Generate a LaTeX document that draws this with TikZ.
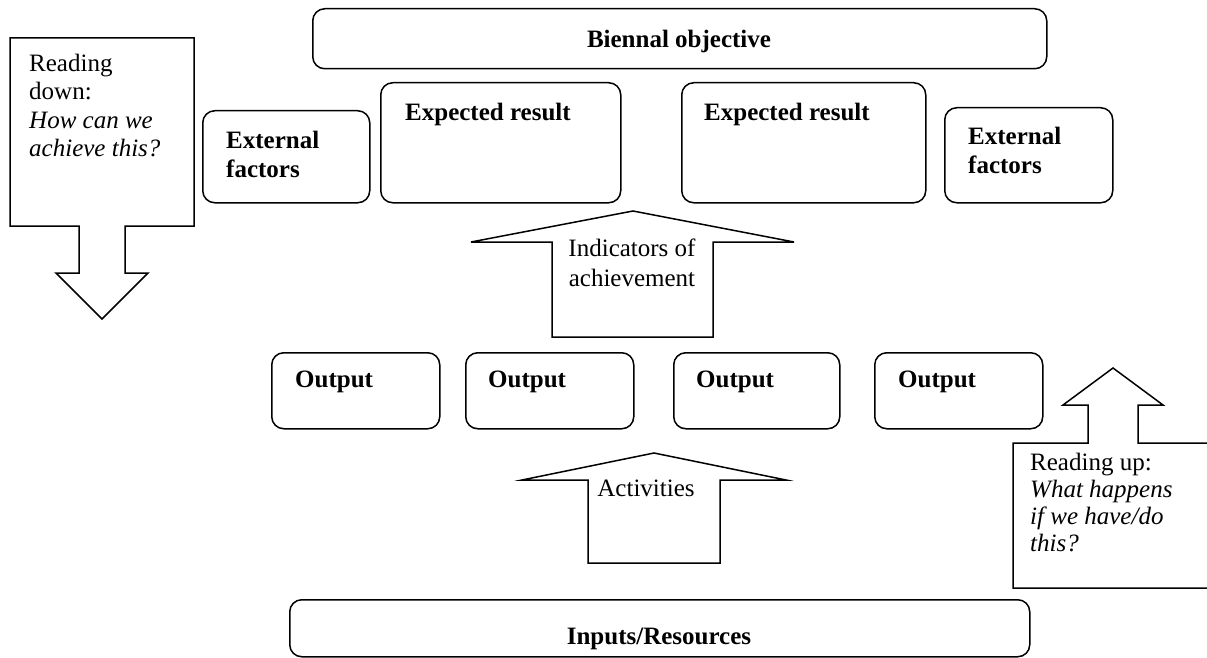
\documentclass[tikz,border=0pt]{standalone}
\usepackage{fontspec}
\setmainfont{Liberation Serif}
\begin{document}
\begin{tikzpicture}[x=1pt,y=-1pt,
  box/.style={draw, rounded corners=12pt, line width=1.5pt, anchor=north west, inner sep=0pt},
  txt/.style={inner sep=0pt, font=\fontsize{25}{29}\selectfont, align=left},
  btxt/.style={inner sep=0pt, font=\fontsize{25}{29}\selectfont\bfseries, align=left},
  blockarrow/.style={draw, line width=1.5pt, line join=miter}]
\useasboundingbox (0,0) rectangle (1207,658);

% boxes
\node[box, minimum width=734pt, minimum height=60pt] (obj) at (312,8) {};
\node[box, minimum width=167pt, minimum height=92pt] (ef1) at (202,110) {};
\node[box, minimum width=240pt, minimum height=120pt] (er1) at (380,82) {};
\node[box, minimum width=244pt, minimum height=120pt] (er2) at (681,82) {};
\node[box, minimum width=168pt, minimum height=95pt] (ef2) at (944,107) {};
\node[box, minimum width=168pt, minimum height=76pt] (o1) at (271,352) {};
\node[box, minimum width=168pt, minimum height=76pt] (o2) at (465,352) {};
\node[box, minimum width=166pt, minimum height=76pt] (o3) at (673,352) {};
\node[box, minimum width=168pt, minimum height=76pt] (o4) at (874,352) {};
\node[box, minimum width=740pt, minimum height=57pt] (inp) at (289,599) {};

% box texts
\node[btxt, anchor=base] (tobj) at (679,48) {Biennal objective};
\node[btxt, anchor=north west] (tef1) at (226,131) {External\\factors};
\node[btxt, anchor=base west] (ter1) at (405,121) {Expected result};
\node[btxt, anchor=base west] (ter2) at (704,121) {Expected result};
\node[btxt, anchor=north west] (tef2) at (968,127) {External\\factors};
\node[btxt, anchor=base west] (to1) at (295,387) {Output};
\node[btxt, anchor=base west] (to2) at (488,387) {Output};
\node[btxt, anchor=base west] (to3) at (696,387) {Output};
\node[btxt, anchor=base west] (to4) at (898,387) {Output};
\node[btxt, anchor=base] (tinp) at (659,644) {Inputs/Resources};

% reading down callout
\draw[blockarrow] (10,38) -- (194,38) -- (194,226) -- (125,226) -- (125,273) -- (148,273)
  -- (102,319) -- (56,273) -- (79,273) -- (79,226) -- (10,226) -- cycle;
\node[txt, anchor=north west, font=\fontsize{25}{28.3}\selectfont] (tdown) at (29,54)
  {Reading\\down:\\\textit{How can we}\\\textit{achieve this?}};

% reading up callout
\draw[blockarrow] (1220,588) -- (1013,588) -- (1013,443) -- (1088,443) -- (1088,405) -- (1063,405)
  -- (1113,368) -- (1163,405) -- (1138,405) -- (1138,443) -- (1220,443);
\node[txt, anchor=north west, font=\fontsize{25}{27}\selectfont] (tup) at (1030,453)
  {Reading up:\\\textit{What happens}\\\textit{if we have/do}\\\textit{this?}};

% indicators arrow
\draw[blockarrow] (633,211) -- (794,242) -- (713,242) -- (713,337) -- (552,337) -- (552,242)
  -- (471,242) -- cycle;
\node[txt, align=center, anchor=north, font=\fontsize{25}{30}\selectfont] (tind) at (632,239)
  {Indicators of\\achievement};

% activities arrow
\draw[blockarrow] (654,453) -- (786,480) -- (720,480) -- (720,563) -- (588,563) -- (588,480)
  -- (522,480) -- cycle;
\node[txt, anchor=base] (tact) at (646,496) {Activities};
\end{tikzpicture}
\end{document}
